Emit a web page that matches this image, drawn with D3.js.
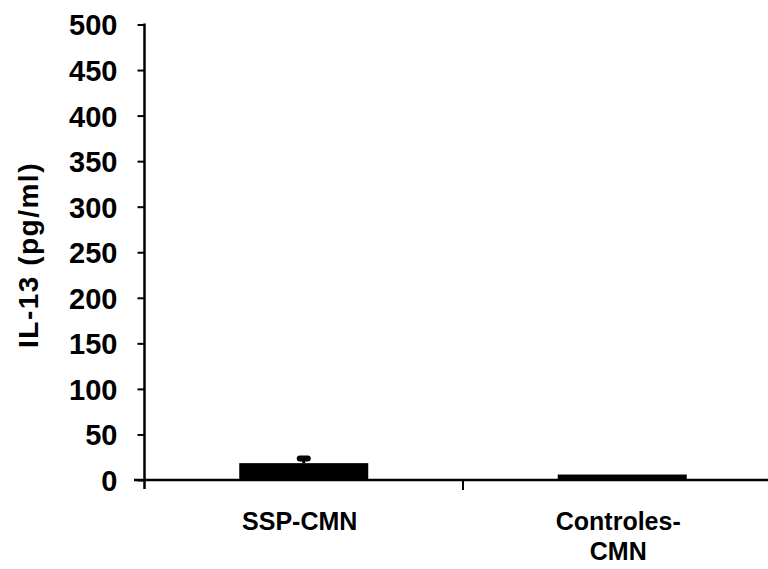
<!DOCTYPE html>
<html>
<head>
<meta charset="utf-8">
<script src="https://cdn.jsdelivr.net/npm/d3@7"></script>
<style>
  html, body { margin: 0; padding: 0; background: #fff; }
  svg { display: block; }
  text { font-family: "Liberation Sans", Arial, sans-serif; font-weight: bold; fill: #000; }
</style>
</head>
<body>
<svg id="chart" width="768" height="569"></svg>
<script>
// IL-13 levels per group
const categories = ["SSP-CMN", "Controles-CMN"];
const categoryLines = [["SSP-CMN"], ["Controles-", "CMN"]];
const means = [18.5, 6];
const errors = [5, 0];
const yTicks = [0, 50, 100, 150, 200, 250, 300, 350, 400, 450, 500];
const yTitle = "IL-13 (pg/ml)";

(function () {
  const svg = d3.select("#chart");
  const W = 768;
  const plotLeft = 144.5, plotTop = 24.5, plotBottom = 480;

  const y = d3.scaleLinear().domain([0, 500]).range([plotBottom, plotTop]);
  const x = d3.scaleBand().domain(categories).range([plotLeft, 781.5]).padding(0);
  const barW = x.bandwidth() * 0.405;

  // bars
  svg.selectAll("rect.bar")
    .data(categories)
    .join("rect")
    .attr("class", "bar")
    .attr("x", d => x(d) + x.bandwidth() / 2 - barW / 2)
    .attr("width", barW)
    .attr("y", (d, i) => y(means[i]))
    .attr("height", (d, i) => y(0) - y(means[i]))
    .attr("fill", "#000");

  // error bars (upper half only)
  categories.forEach((c, i) => {
    if (!errors[i]) return;
    const cx = x(c) + x.bandwidth() / 2;
    const yt = y(means[i] + errors[i]);
    svg.append("line")
      .attr("x1", cx).attr("x2", cx)
      .attr("y1", y(means[i])).attr("y2", yt)
      .attr("stroke", "#000").attr("stroke-width", 3);
    svg.append("line")
      .attr("x1", cx - 4).attr("x2", cx + 4)
      .attr("y1", yt).attr("y2", yt)
      .attr("stroke", "#000").attr("stroke-width", 6).attr("stroke-linecap", "round");
  });

  // y axis
  const yAxis = d3.axisLeft(y).tickValues(yTicks).tickSize(7).tickPadding(20);
  const gy = svg.append("g").attr("transform", `translate(${plotLeft},0)`).call(yAxis);
  gy.select(".domain").remove();
  gy.selectAll(".tick line").attr("stroke", "#000").attr("stroke-width", 2);
  gy.selectAll(".tick text")
    .style("font-size", "29px")
    .attr("dy", "0.36em");
  svg.append("line")
    .attr("x1", plotLeft).attr("x2", plotLeft)
    .attr("y1", plotTop - 1).attr("y2", 489)
    .attr("stroke", "#000").attr("stroke-width", 2.5);

  // x axis baseline and category divider
  svg.append("line")
    .attr("x1", 134).attr("x2", W)
    .attr("y1", y(0)).attr("y2", y(0))
    .attr("stroke", "#000").attr("stroke-width", 2.5);
  categories.slice(1).forEach(c => {
    svg.append("line")
      .attr("x1", x(c)).attr("x2", x(c))
      .attr("y1", y(0)).attr("y2", y(0) + 10)
      .attr("stroke", "#000").attr("stroke-width", 2);
  });

  // category labels
  categories.forEach((c, i) => {
    const cx = x(c) + x.bandwidth() / 2 - 4;
    const t = svg.append("text")
      .attr("text-anchor", "middle")
      .style("font-size", "25px")
      .attr("x", cx)
      .attr("y", 530);
    categoryLines[i].forEach((line, j) => {
      t.append("tspan")
        .attr("x", cx)
        .attr("dy", j === 0 ? 0 : 30)
        .text(line);
    });
  });

  // y axis title
  svg.append("text")
    .attr("transform", "translate(38,255) rotate(-90)")
    .attr("text-anchor", "middle")
    .style("font-size", "28px")
    .style("letter-spacing", "1.5px")
    .text(yTitle);
})();
</script>
</body>
</html>
